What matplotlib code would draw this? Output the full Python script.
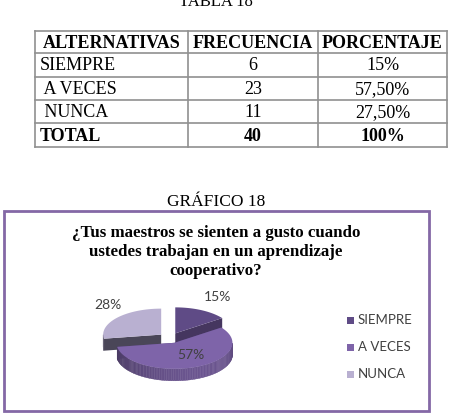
import numpy as np
import matplotlib.pyplot as plt
from matplotlib.patches import Polygon, Rectangle
from matplotlib.colors import to_rgb

plt.rcParams['font.family'] = 'Liberation Serif'

# Tabla 18
encabezado = ['ALTERNATIVAS', 'FRECUENCIA', 'PORCENTAJE']
alternativas = ['SIEMPRE', ' A VECES', ' NUNCA']
frecuencia = ['6', '23', '11']
porcentaje = ['15%', '57,50%', '27,50%']
total = ['TOTAL', '40', '100%']

# Grafico 18
categorias = ['SIEMPRE', 'A VECES', 'NUNCA']
valores = [15, 57.5, 27.5]
etiquetas = ['15%', '57%', '28%']
colores = ['#5f4b86', '#7e64a9', '#b9b0d1']
colores_lado = ['#45365f', '#54427a', '#4a4658']

fig = plt.figure(figsize=(4.53, 4.15), dpi=100)
ax = fig.add_axes([0, 0, 1, 1])
ax.set_xlim(0, 453)
ax.set_ylim(415, 0)
ax.axis('off')

# ---- table ----
ax.text(216, 6, 'TABLA 18', ha='center', va='baseline', fontsize=12)
xs = [35, 188, 318, 447]
ys = [31, 53, 77, 100, 123, 147]
for x in xs:
    ax.plot([x, x], [ys[0], ys[-1]], color='#909090', lw=1.2)
for y in ys:
    ax.plot([xs[0], xs[-1]], [y, y], color='#909090', lw=1.2)

filas = [encabezado] + [[a, f, p] for a, f, p in zip(alternativas, frecuencia, porcentaje)] + [total]
for i, fila in enumerate(filas):
    yc = (ys[i] + ys[i + 1]) / 2 + 1
    bold = 'bold' if i in (0, len(filas) - 1) else 'normal'
    for j, txt in enumerate(fila):
        if i == 0:
            xc, ha = (xs[j] + xs[j + 1]) / 2, 'center'
        elif j == 0:
            xc, ha = xs[0] + 5, 'left'
        else:
            xc, ha = (xs[j] + xs[j + 1]) / 2, 'center'
        ax.text(xc, yc, txt, ha=ha, va='center', fontsize=13, fontweight=bold)

# ---- chart ----
ax.text(216, 206, 'GRÁFICO 18', ha='center', va='baseline', fontsize=12.5)
ax.add_patch(Rectangle((4, 211), 425, 200, fill=False, edgecolor='#8468a6', lw=2))
titulo = ['¿Tus maestros se sienten a gusto cuando',
          'ustedes trabajan en un aprendizaje',
          'cooperativo?']
for k, linea in enumerate(titulo):
    ax.text(216, 233 + k * 19, linea, ha='center', va='center',
            fontsize=12.2, fontweight='bold')

# 3D pie
cx0, cy0 = 170, 338
rx, ry, prof = 58, 26, 12
expl = 0.2


def punto(cx, cy, t):
    r = np.radians(t)
    return cx + rx * np.cos(r), cy - ry * np.sin(r)


def oscuro(c, f):
    return tuple(min(1, v * f) for v in to_rgb(c))


inicio = 90
rebanadas = []
for i, v in enumerate(valores):
    fin = inicio - v * 3.6
    medio = np.radians((inicio + fin) / 2)
    cx = cx0 + expl * rx * np.cos(medio)
    cy = cy0 - expl * ry * np.sin(medio)
    rebanadas.append((i, fin, inicio, cx, cy))
    inicio = fin

orden = [2, 0, 1]
for i in orden:
    _, t1, t2, cx, cy = rebanadas[i]
    # radial faces
    for t in (t1, t2):
        px, py = punto(cx, cy, t)
        ax.add_patch(Polygon([(cx, cy), (px, py), (px, py + prof), (cx, cy + prof)],
                             closed=True, facecolor=colores_lado[i], edgecolor='none'))
    # outer wall (front half)
    ts = np.linspace(t1, t2, 120)
    for a, b in zip(ts[:-1], ts[1:]):
        m = (a + b) / 2
        if np.sin(np.radians(m)) < 0:
            xa, ya = punto(cx, cy, a)
            xb, yb = punto(cx, cy, b)
            f = 0.65 + 0.2 * np.cos(np.radians(m + 60))
            ax.add_patch(Polygon([(xa, ya), (xb, yb), (xb, yb + prof), (xa, ya + prof)],
                                 closed=True, facecolor=oscuro(colores[i], f),
                                 edgecolor=oscuro(colores[i], f), lw=0.3))
    # top
    arc = [punto(cx, cy, t) for t in ts]
    ax.add_patch(Polygon([(cx, cy)] + arc, closed=True,
                         facecolor=colores[i], edgecolor='none'))

pos_etiquetas = [(218, 297), (191, 355), (108, 305)]
for (x, y), et in zip(pos_etiquetas, etiquetas):
    ax.text(x, y, et, ha='center', va='center', fontsize=10,
            family='Lato', color='#404040')

for k, (cat, col) in enumerate(zip(categorias, colores)):
    y = 320 + k * 27
    ax.add_patch(Rectangle((347, y - 3.5), 7, 7, facecolor=col, edgecolor='none'))
    ax.text(358, y, cat, ha='left', va='center', fontsize=9.5,
            family='Lato', color='#404040')

fig.savefig('out.png', dpi=100)
